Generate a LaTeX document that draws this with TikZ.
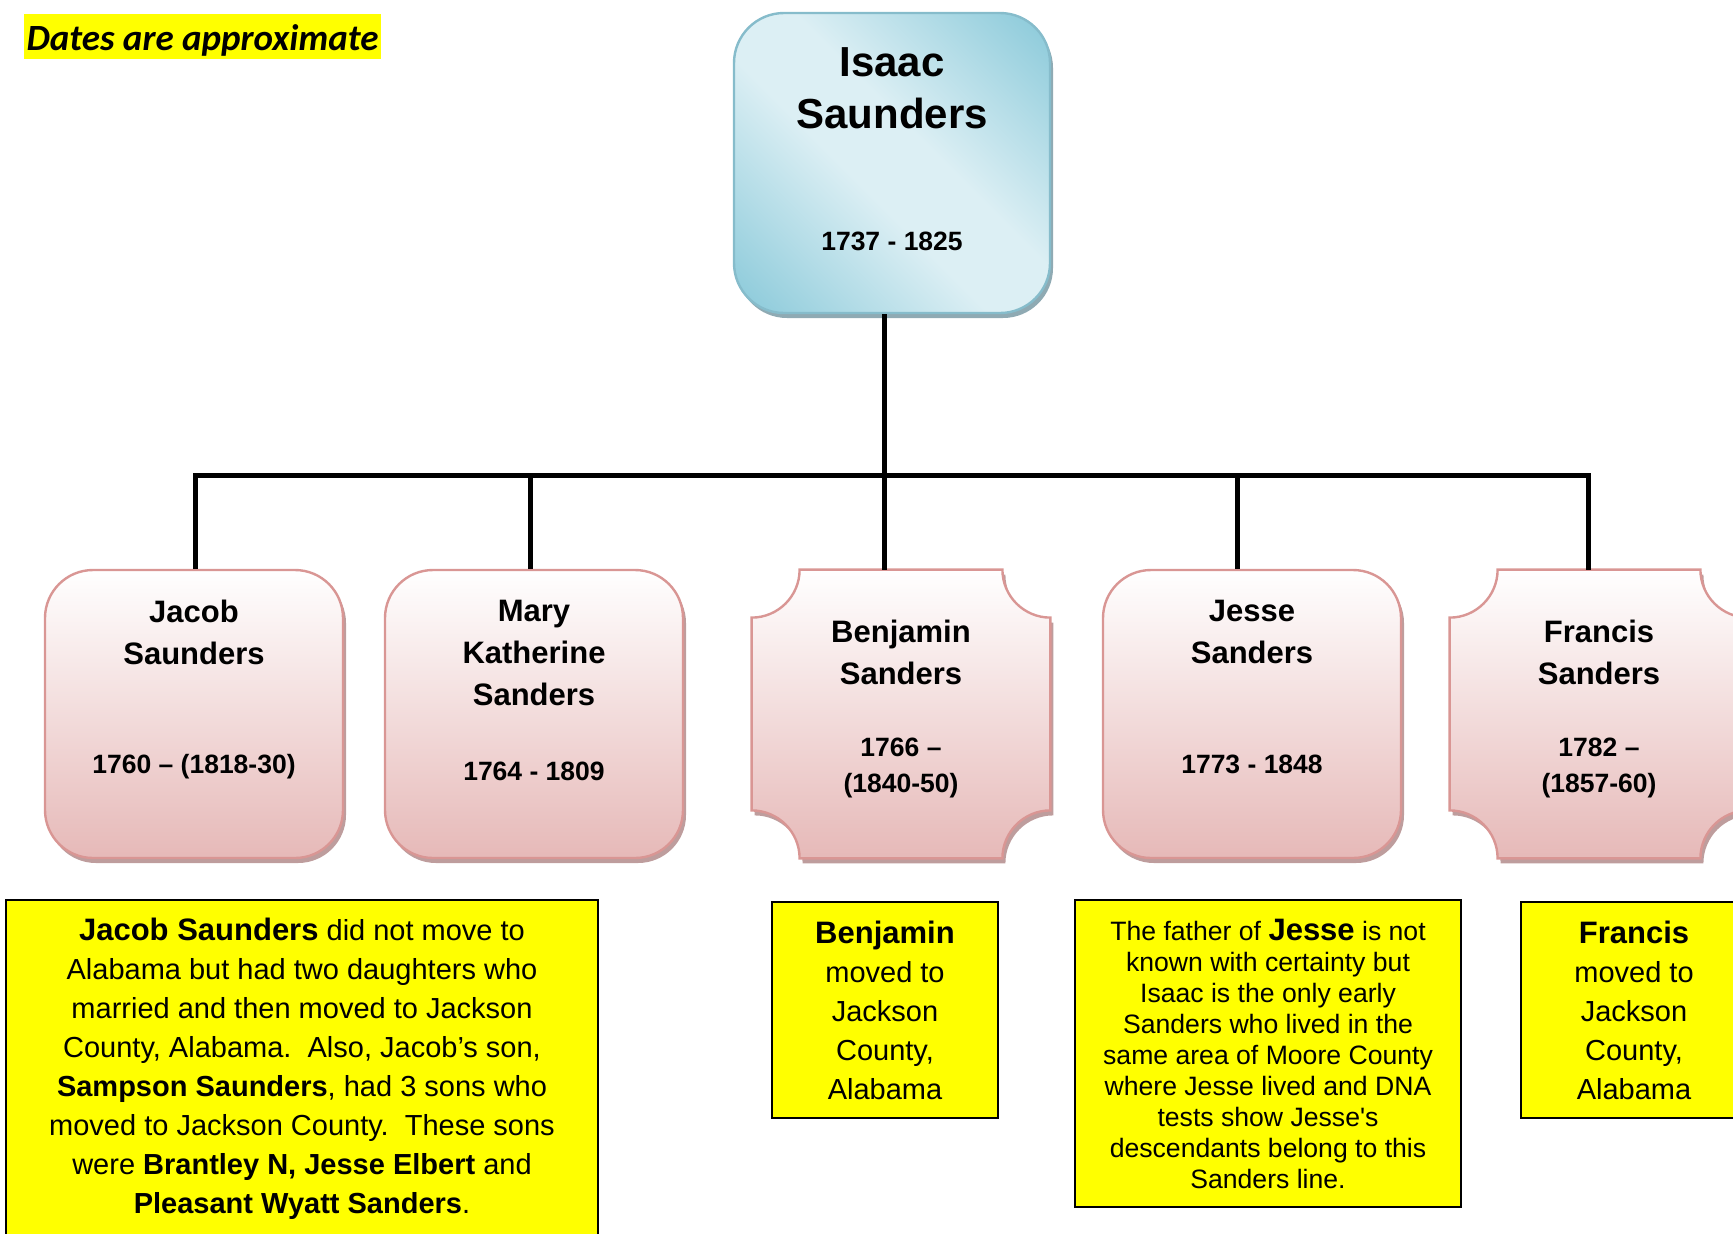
\documentclass[tikz,border=0pt]{standalone}
\usepackage{fontspec}
\setmainfont{Liberation Sans}
\newfontfamily\calibri{Carlito}
\usetikzlibrary{calc,shadows}

\definecolor{pinktop}{HTML}{FFFFFF}
\definecolor{pinkbot}{HTML}{E6B9B8}
\definecolor{pinkedge}{HTML}{D99694}
\definecolor{pinkshade}{HTML}{BE9D9D}
\definecolor{bluelight}{HTML}{DCEFF4}
\definecolor{bluedark}{HTML}{92CDDC}
\definecolor{blueedge}{HTML}{86BCCB}
\definecolor{blueshade}{HTML}{8FAAB3}
\definecolor{noteyellow}{HTML}{FFFF00}

\pgfdeclareverticalshading{pinkfade}{100bp}{color(0bp)=(pinkbot); color(25bp)=(pinkbot); color(75bp)=(pinktop); color(100bp)=(pinktop)}
\pgfdeclarehorizontalshading{bluefade}{100bp}{color(0bp)=(bluedark); color(18bp)=(bluedark); color(44bp)=(bluelight); color(56bp)=(bluelight); color(82bp)=(bluedark); color(100bp)=(bluedark)}

\newcommand{\plaquepath}[1]{($(#1.north west)+(48,0)$) -- ($(#1.north east)+(-48,0)$) arc[start angle=180, end angle=270, radius=24pt] -- ($(#1.south east)+(0,-48)$) arc[start angle=90, end angle=180, radius=24pt] -- ($(#1.south west)+(48,0)$) arc[start angle=0, end angle=90, radius=24pt] -- ($(#1.north west)+(0,48)$) arc[start angle=-90, end angle=0, radius=24pt] -- cycle}

\tikzset{
	link/.style={line width=2.5pt},
	rootbox/.style={shade, shading=bluefade, shading angle=45, draw=blueedge, line width=1.2pt, rounded corners=25pt, minimum width=158pt, minimum height=150pt, drop shadow={shadow xshift=1.5pt, shadow yshift=-2.5pt, fill=blueshade, opacity=1}},
	kidbox/.style={shade, shading=pinkfade, draw=pinkedge, line width=1.2pt, rounded corners=24pt, minimum width=149pt, minimum height=144pt, drop shadow={shadow xshift=1.5pt, shadow yshift=-2.5pt, fill=pinkshade, opacity=1}},
	plaquebox/.style={minimum width=149pt, minimum height=144pt, inner sep=0pt},
	plaqueline/.style={shade, shading=pinkfade, draw=pinkedge, line width=1.2pt, drop shadow={shadow xshift=1.5pt, shadow yshift=-2.5pt, fill=pinkshade, opacity=1}},
	rootname/.style={font={\fontsize{21pt}{26pt}\selectfont\bfseries}, align=center, inner sep=0pt},
	kidname/.style={font={\fontsize{15.5pt}{21pt}\selectfont\bfseries}, align=center, inner sep=0pt},
	kiddate/.style={font={\fontsize{13.25pt}{18pt}\selectfont\bfseries}, align=center, inner sep=0pt},
	note/.style={draw=black, line width=1pt, fill=noteyellow, align=center, inner sep=0pt, font={\fontsize{14.5pt}{19.5pt}\selectfont}},
}

\begin{document}
\begin{tikzpicture}[x=0.5pt, y=-0.5pt]
	\useasboundingbox (0,0) rectangle (1733,1233);
	\clip (0,0) rectangle (1733,1233);
	\node[fill=noteyellow, inner sep=0pt, minimum width=178.5pt, text height=18pt, text depth=4.5pt, font={\calibri\fontsize{18.5pt}{22pt}\selectfont\bfseries\itshape}] (approx) at (202.5,36.5) {Dates are approximate};
	\node[rootbox] (isaac) at (892,163) {};
	\node[rootname, anchor=north] (isaacname) at ($(isaac.north)+(0,35)$) {Isaac\\Saunders};
	\node[kiddate, anchor=base] (isaacdate) at ($(isaac.north)+(0,239)$) {1737 - 1825};
	\foreach \n/\x in {jacob/194, mary/534, jesse/1252}{
		\node[kidbox] (\n) at (\x,714) {};
	}
	\foreach \n/\x in {benjamin/901, francis/1599}{
		\node[plaquebox] (\n) at (\x,714) {};
		\draw[plaqueline] \plaquepath{\n};
	}
	\node[kidname, anchor=north] (jacobname) at ($(jacob.north)+(0,31)$) {Jacob\\Saunders};
	\node[kiddate, anchor=base] (jacobdate) at ($(jacob.north)+(0,205)$) {1760 – (1818-30)};
	\node[kidname, anchor=north] (maryname) at ($(mary.north)+(0,31)$) {Mary\\Katherine\\Sanders};
	\node[kiddate, anchor=base] (marydate) at ($(mary.north)+(0,212)$) {1764 - 1809};
	\node[kidname, anchor=north] (benjaminname) at ($(benjamin.north)+(0,50)$) {Benjamin\\Sanders};
	\node[kiddate, anchor=north] (benjamindate) at ($(benjamin.north)+(0,168)$) {1766 –\\(1840-50)};
	\node[kidname, anchor=north] (jessename) at ($(jesse.north)+(0,31)$) {Jesse\\Sanders};
	\node[kiddate, anchor=base] (jessedate) at ($(jesse.north)+(0,205)$) {1773 - 1848};
	\node[kidname, anchor=north] (francisname) at ($(francis.north)+(0,50)$) {Francis\\Sanders};
	\node[kiddate, anchor=north] (francisdate) at ($(francis.north)+(0,168)$) {1782 –\\(1857-60)};
	\coordinate (bus) at (884,475);
	\draw[link] (884,0 |- isaac.south) -- (bus);
	\draw[link] (195,0 |- jacob.north) |- (1588,0 |- bus) -- (1588,0 |- francis.north);
	\foreach \n/\x in {mary/530, benjamin/884, jesse/1237}{
		\draw[link] (\x,0 |- bus) -- (\x,0 |- \n.north);
	}
	\node[note, minimum width=296pt, minimum height=169pt] (jacobnote) at (302,1069) {{\fontsize{15.5pt}{19.5pt}\selectfont\bfseries Jacob Saunders} did not move to\\
		Alabama but had two daughters who\\
		married and then moved to Jackson\\
		County, Alabama.\ \ Also, Jacob’s son,\\
		\textbf{Sampson Saunders}, had 3 sons who\\
		moved to Jackson County.\ \ These sons\\
		were \textbf{Brantley N, Jesse Elbert} and\\
		\textbf{Pleasant Wyatt Sanders}.};
	\node[note, minimum width=113pt, minimum height=108pt] (benjaminnote) at (885,1010) {{\fontsize{15.5pt}{19.5pt}\selectfont\bfseries Benjamin}\\moved to\\Jackson\\County,\\Alabama};
	\node[note, minimum width=193pt, minimum height=153.5pt, font={\fontsize{13.3pt}{15.5pt}\selectfont}] (jessenote) at (1268,1053.5) {The father of {\fontsize{15.5pt}{15.5pt}\selectfont\bfseries Jesse} is not\\
		known with certainty but\\
		Isaac is the only early\\
		Sanders who lived in the\\
		same area of Moore County\\
		where Jesse lived and DNA\\
		tests show Jesse\textquotesingle s\\
		descendants belong to this\\
		Sanders line.};
	\node[note, minimum width=113pt, minimum height=108pt] (francisnote) at (1634,1010) {{\fontsize{15.5pt}{19.5pt}\selectfont\bfseries Francis}\\moved to\\Jackson\\County,\\Alabama};
\end{tikzpicture}
\end{document}
